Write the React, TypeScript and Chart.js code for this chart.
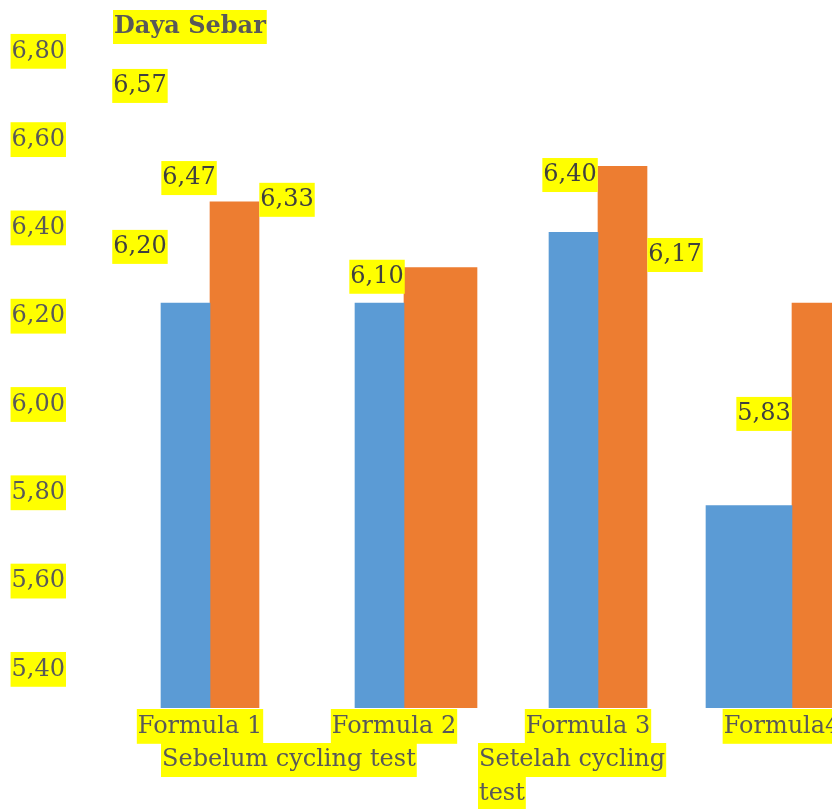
import React, { useEffect, useRef } from "react";
import { Chart, registerables } from "chart.js";

Chart.register(...registerables);

// ---------- data ----------
const TITLE = "Daya Sebar";
const CATEGORIES = ["Formula 1", "Formula 2", "Formula 3", "Formula4"];
const SERIES_NAMES = ["Sebelum cycling test", "Setelah cycling test"];
const SEBELUM = [6.2, 6.2, 6.34, 5.8];
const SETELAH = [6.4, 6.27, 6.47, 6.2];
const Y_TICKS = [6.8, 6.6, 6.4, 6.2, 6.0, 5.8, 5.6, 5.4];
const DATA_LABELS = [6.57, 6.47, 6.33, 6.2, 6.1, 6.4, 6.17, 5.83];

// ---------- layout / style ----------
const FONT_FAMILY = "'DejaVu Serif', serif";
const TEXT_COLOR = "#595959";
const LABEL_COLOR = "#404040";
const HIGHLIGHT = "#FFFF00";
const BLUE = "#5B9BD5";
const ORANGE = "#ED7D31";
const CANVAS_W = 889;
const CANVAS_H = 809;
// anchor of each data label: [category position, value on bar axis]
const LABEL_ANCHORS: [number, number][] = [
  [-0.361, 6.629],
  [-0.108, 6.447],
  [0.397, 6.404],
  [-0.361, 6.311],
  [0.861, 6.252],
  [1.856, 6.453],
  [2.397, 6.295],
  [2.856, 5.981],
];
// bars drawn wider than the rest: keep the inner edge at the category centre
const BAR_WIDTH_OVERRIDES = [
  { dataset: 1, index: 1, width: 73, keep: "left" },
  { dataset: 0, index: 3, width: 86, keep: "right" },
];
const LEGEND_LEFT = [162, 479];
const LEGEND_WRAP = [320, 200];
const LEGEND_Y = 760;
const LINE_H = 34;

const fmt = (v: number) => v.toFixed(2).replace(".", ",");

function drawHighlighted(
  ctx: CanvasRenderingContext2D,
  text: string,
  x: number,
  y: number,
  align: "left" | "center",
  font: string,
  color: string
) {
  ctx.font = font;
  const w = ctx.measureText(text).width;
  const left = align === "center" ? x - w / 2 : x;
  ctx.fillStyle = HIGHLIGHT;
  ctx.fillRect(left - 1, y - LINE_H / 2, w + 2, LINE_H);
  ctx.fillStyle = color;
  ctx.textAlign = "left";
  ctx.textBaseline = "middle";
  ctx.fillText(text, left, y);
}

function wrapWords(ctx: CanvasRenderingContext2D, text: string, maxW: number) {
  const words = text.split(" ");
  const lines: string[] = [];
  let cur = "";
  for (const w of words) {
    const next = cur ? cur + " " + w : w;
    if (cur && ctx.measureText(next).width > maxW) {
      lines.push(cur);
      cur = w;
    } else cur = next;
  }
  if (cur) lines.push(cur);
  return lines;
}

const overlayPlugin = {
  id: "overlayText",
  afterDatasetsUpdate(chart: any) {
    BAR_WIDTH_OVERRIDES.forEach(({ dataset, index, width, keep }) => {
      const el: any = chart.getDatasetMeta(dataset).data[index];
      if (!el) return;
      const left = el.x - el.width / 2;
      const right = el.x + el.width / 2;
      el.x = keep === "left" ? left + width / 2 : right - width / 2;
      el.width = width;
    });
  },
  afterDraw(chart: any) {
    const ctx: CanvasRenderingContext2D = chart.ctx;
    const { chartArea } = chart;
    const xs = chart.scales.x;
    const ys = chart.scales.y;
    ctx.save();
    // title
    drawHighlighted(ctx, TITLE, chartArea.left + 1, 27, "left", `bold 24px ${FONT_FAMILY}`, TEXT_COLOR);
    // data labels
    DATA_LABELS.forEach((v, i) => {
      const [cx, cy] = LABEL_ANCHORS[i];
      drawHighlighted(
        ctx,
        fmt(v),
        xs.getPixelForValue(cx),
        ys.getPixelForValue(cy),
        "center",
        `24px ${FONT_FAMILY}`,
        LABEL_COLOR
      );
    });
    // legend (text only)
    ctx.font = `24px ${FONT_FAMILY}`;
    chart.data.datasets.forEach((ds: any, i: number) => {
      const lines = wrapWords(ctx, ds.label, LEGEND_WRAP[i]);
      lines.forEach((ln, k) => {
        drawHighlighted(ctx, ln, LEGEND_LEFT[i], LEGEND_Y + k * LINE_H, "left", `24px ${FONT_FAMILY}`, TEXT_COLOR);
      });
    });
    ctx.restore();
  },
};

const zeroPadding = (s: any) => {
  s.paddingTop = 0;
  s.paddingBottom = 0;
  s.paddingLeft = 0;
  s.paddingRight = 0;
};

export default function App() {
  const ref = useRef<HTMLCanvasElement>(null);
  useEffect(() => {
    const canvas = ref.current;
    if (!canvas) return;
    const backdrop = {
      showLabelBackdrop: true,
      backdropColor: HIGHLIGHT,
      backdropPadding: { top: 3, bottom: 3, left: 1, right: 1 },
    };
    const chart = new Chart(canvas, {
      type: "bar",
      data: {
        labels: CATEGORIES,
        datasets: [
          { label: SERIES_NAMES[0], data: SEBELUM, backgroundColor: BLUE, borderWidth: 0, barThickness: 49, yAxisID: "y" },
          { label: SERIES_NAMES[1], data: SETELAH, backgroundColor: ORANGE, borderWidth: 0, barThickness: 49, yAxisID: "y" },
        ],
      },
      options: {
        animation: false,
        responsive: false,
        events: [],
        layout: { padding: { top: 50, left: 0, right: 0, bottom: 61 } },
        plugins: {
          legend: { display: false },
          title: { display: false },
          tooltip: { enabled: false },
        },
        scales: {
          x: {
            grid: { display: false, drawTicks: false },
            border: { display: false },
            ticks: {
              font: { family: FONT_FAMILY, size: 24 },
              color: TEXT_COLOR,
              padding: 4,
              labelOffset: -10,
              maxRotation: 0,
              autoSkip: false,
              ...backdrop,
            },
            afterFit: (s: any) => {
              s.height = 40;
              zeroPadding(s);
            },
          },
          y: { display: false, min: 5.4, max: 6.7 },
          yl: {
            type: "linear",
            position: "left",
            min: 5.3125,
            max: 6.803,
            grid: { display: false, drawTicks: false },
            border: { display: false },
            afterBuildTicks: (s: any) => {
              s.ticks = Y_TICKS.map((v) => ({ value: v }));
            },
            ticks: {
              font: { family: FONT_FAMILY, size: 24 },
              color: TEXT_COLOR,
              padding: 48,
              callback: (v: any) => fmt(Number(v)),
              ...backdrop,
            },
            afterFit: (s: any) => {
              s.width = 113;
              zeroPadding(s);
            },
          },
        },
      } as any,
      plugins: [overlayPlugin as any],
    });
    return () => chart.destroy();
  }, []);

  return (
    <div
      style={{
        position: "absolute",
        left: 0,
        top: 0,
        width: 832,
        height: 809,
        overflow: "hidden",
        background: "#ffffff",
      }}
    >
      <canvas ref={ref} width={CANVAS_W} height={CANVAS_H} style={{ display: "block", width: CANVAS_W, height: CANVAS_H }} />
    </div>
  );
}
